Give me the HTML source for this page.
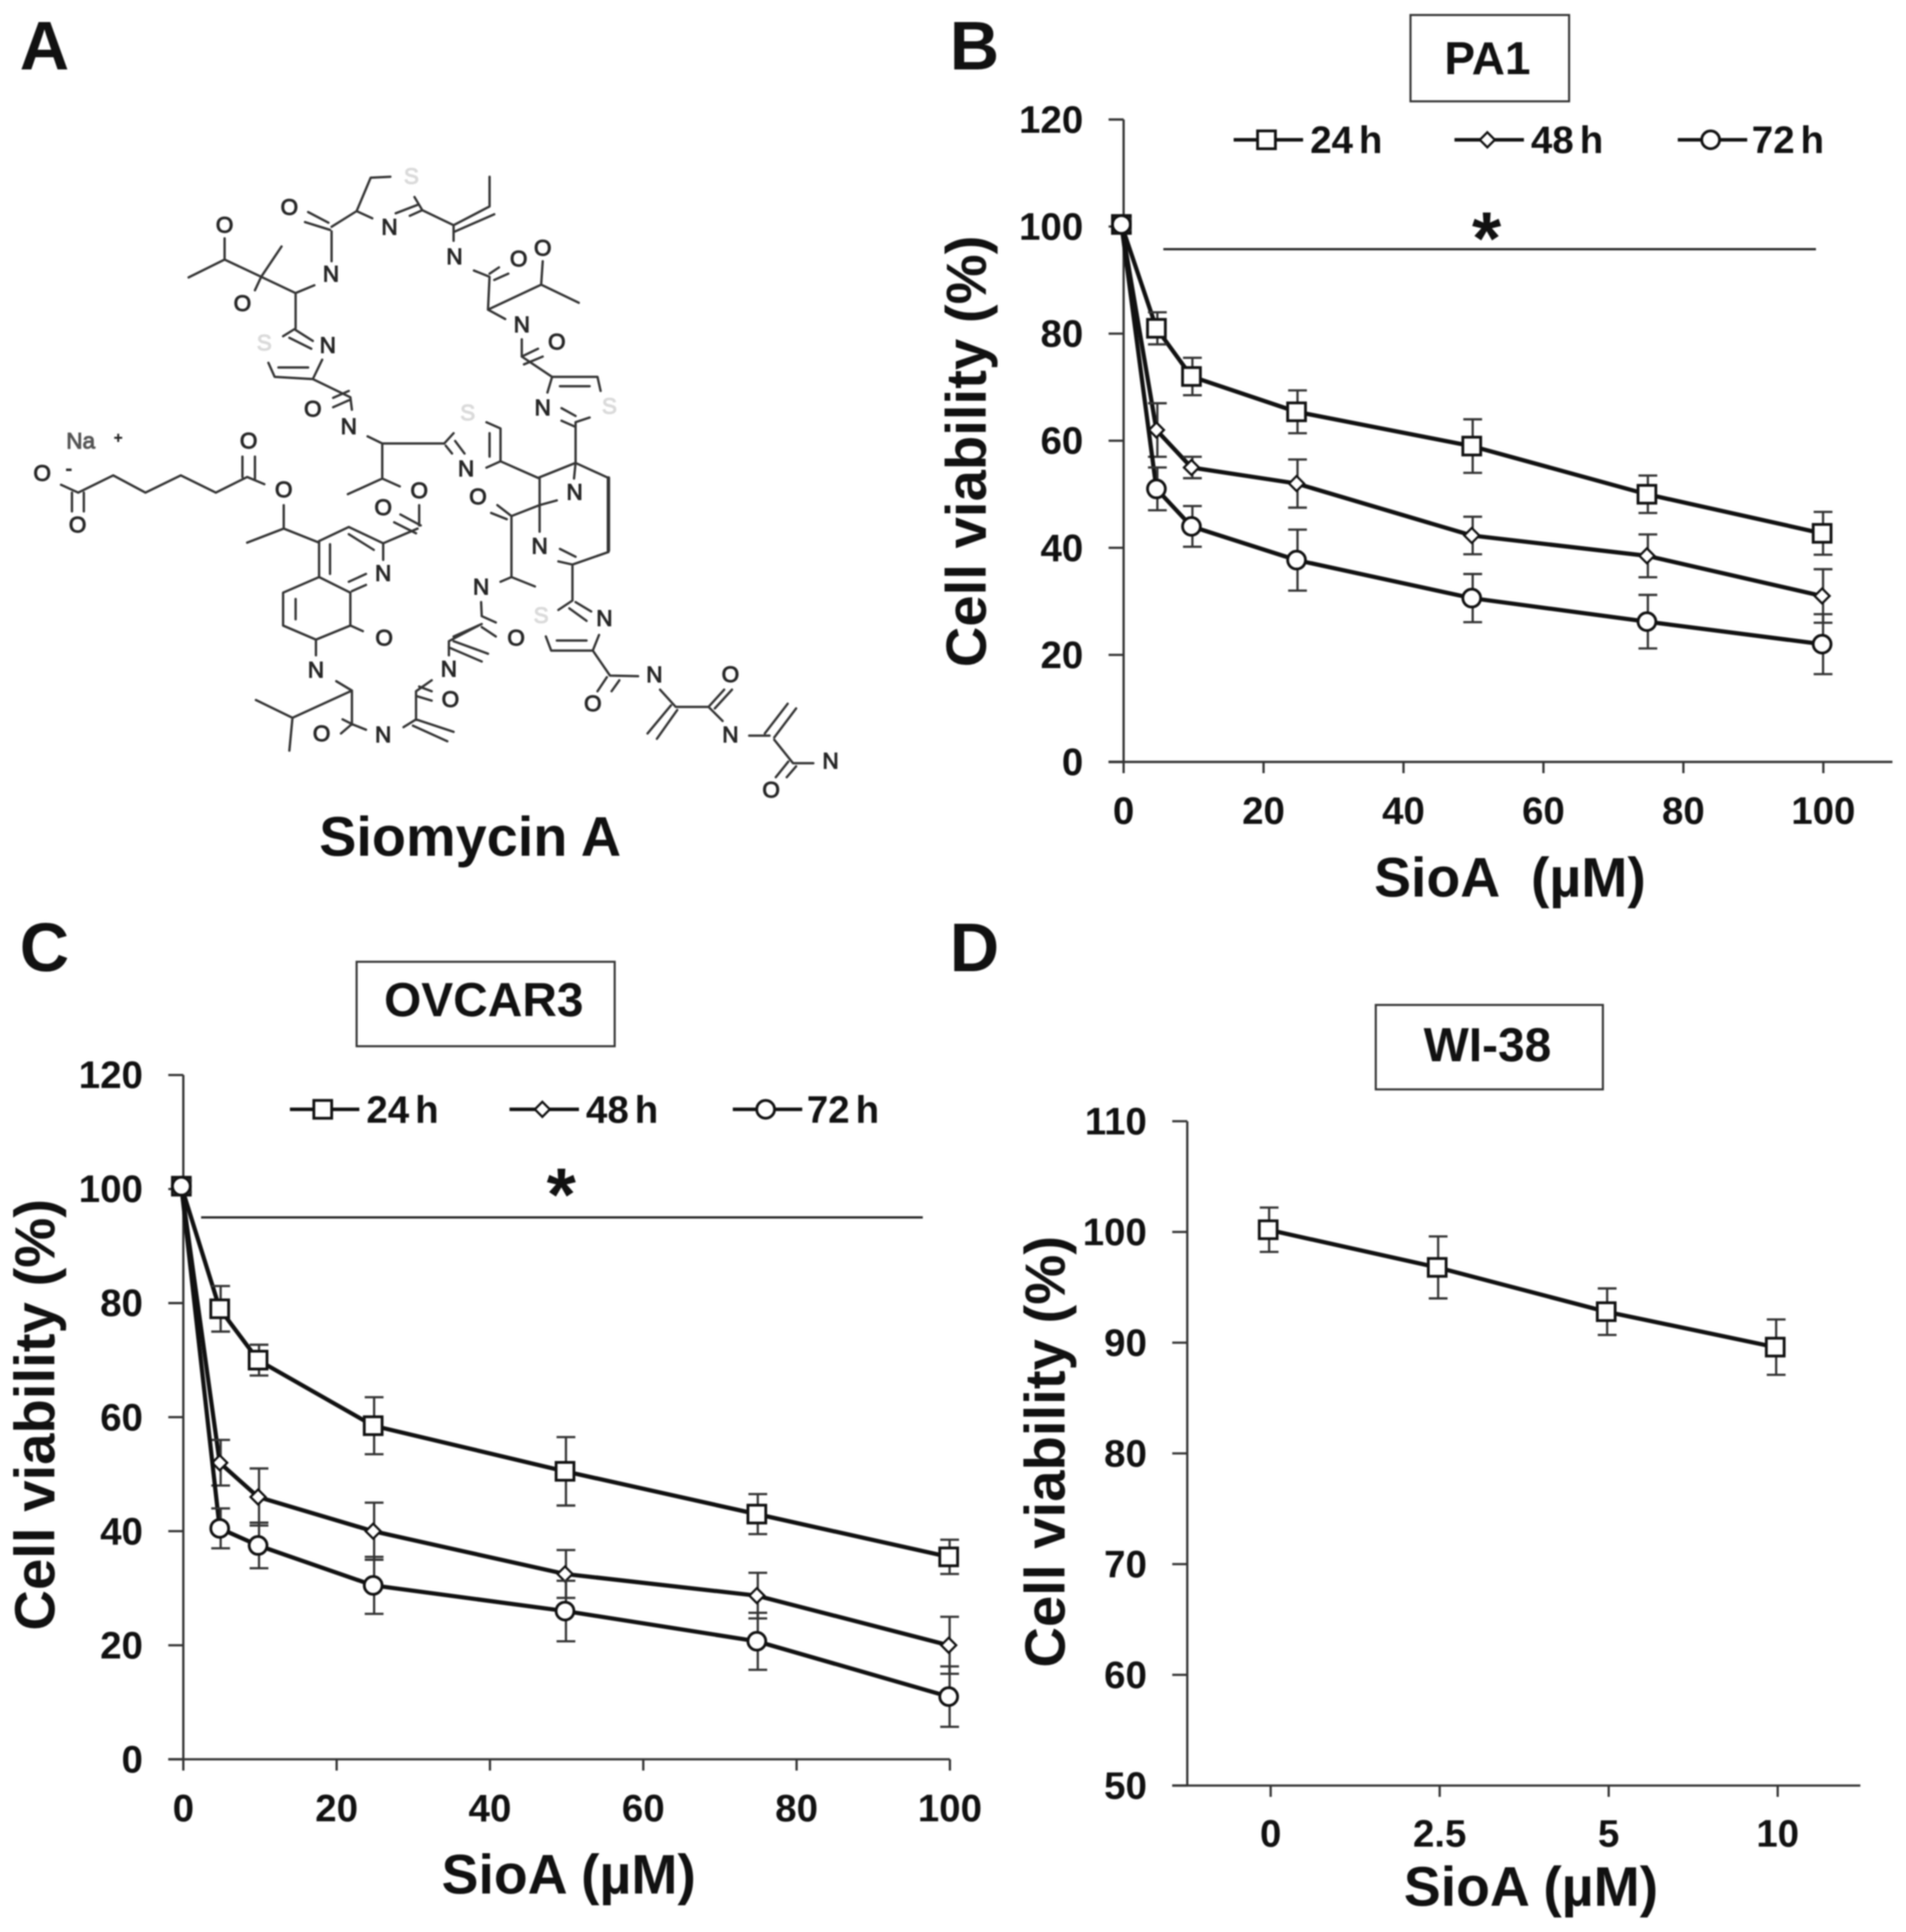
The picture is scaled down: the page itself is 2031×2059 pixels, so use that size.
<!DOCTYPE html>
<html lang="en">
<head>
<meta charset="utf-8">
<title>Siomycin A cell viability figure</title>
<style>
html,body{margin:0;padding:0;background:#fff;width:2031px;height:2059px;overflow:hidden}
#figure{display:block;filter:blur(0.9px);font-family:"Liberation Sans",sans-serif}
.bond{fill:none;stroke:#333;stroke-width:7.5;stroke-linecap:round;stroke-linejoin:round}
.atom{font-size:72px;fill:#262626;stroke:#262626;stroke-width:3;text-anchor:middle;dominant-baseline:central}
.sulfur{fill:#dadada;stroke:#dadada}
.bold{font-weight:bold;fill:#111}
</style>
</head>
<body>
<svg id="figure" xmlns="http://www.w3.org/2000/svg" width="2031" height="2059" viewBox="0 0 2031 2059">
  <rect width="2031" height="2059" fill="#fff"/>

  <text class="bold" x="21" y="74" font-size="73">A</text>
  <text class="bold" x="1012" y="74" font-size="73">B</text>
  <text class="bold" x="21" y="1035" font-size="73">C</text>
  <text class="bold" x="1012" y="1035" font-size="73">D</text>

  <g>
    <g transform="translate(0,150) scale(0.33333)">
      <path class="bond" d="M1248 115L1185 118L1140 225L1190 248M1140 225L1060 275M1050 262L985 228M1055 285L975 260M1060 290L1060 385M1265 232L1335 205M1310 240L1350 222M1350 222L1325 180M1350 222L1450 270M718 312L718 380L603 437M718 380L835 435L900 338M835 435L815 478M835 435L945 487L1005 462M945 487L945 600L905 625M945 605L1000 640M925 630L995 665M858 710L878 755L1000 762L1030 700M890 725L985 725M1000 762L1120 820L1125 860M1065 822L1115 800M1065 852L1115 830M1175 945L1222 968L1420 968M1222 968L1222 1080L1112 1130M1222 1080L1278 1105M195 1100L250 1125L362 1070L465 1125L578 1070L690 1125L790 1075L845 1098M230 1125L230 1185M268 1125L268 1185M775 1010L775 1075M815 1010L815 1085M907 1165L907 1240L790 1285M907 1240L1020 1285"/>
      <text class="atom sulfur" x="1315" y="115">S</text>
      <text class="atom" x="925" y="215">O</text>
      <text class="atom" x="1245" y="278">N</text>
      <text class="atom" x="718" y="272">O</text>
      <text class="atom" x="1058" y="428">N</text>
      <text class="atom" x="775" y="522">O</text>
      <text class="atom sulfur" x="845" y="648">S</text>
      <text class="atom" x="1048" y="655">N</text>
      <text class="atom" x="1000" y="860">O</text>
      <text class="atom" x="1115" y="915">N</text>
      <text class="atom" style="fill:#555;stroke:#555" x="258" y="962">Na</text>
      <text class="atom" style="font-size:46px" x="378" y="952">+</text>
      <text class="atom" x="135" y="1065">O</text>
      <text class="atom" style="font-size:60px" x="220" y="1050">-</text>
      <text class="atom" x="248" y="1230">O</text>
      <text class="atom" x="795" y="962">O</text>
      <text class="atom" x="907" y="1118">O</text>
    </g>
    <g transform="translate(450,150) scale(0.33333)">
      <path class="bond" d="M215 115L215 210L100 270M105 290L230 235M100 270L100 320M165 415L215 435L210 540M215 425L245 405M230 445L275 425M210 540L380 460L385 385M380 460L500 518M210 540L265 570M318 635L318 690L370 665M325 715L385 690M318 690L415 755L560 755L570 800M440 785L535 785M415 755L400 805M445 855L490 880M445 895L490 915M490 900L535 885M490 900L490 1030L370 1078M490 1030L595 1078M490 1030L485 1080M595 1315L480 1355M440 1305L490 1330M435 1345L480 1355M375 1078L375 1250M375 1165L430 1150M375 1165L285 1200L240 1165M270 1210L220 1190M285 1200L285 1395L250 1410M285 1395L360 1425M370 1078L250 1025L250 920L205 900M215 935L215 1010M250 1025L205 1045M70 968L100 935M75 975L95 1000M105 960L135 1000"/>
      <path class="bond" style="stroke-width:11" d="M595 1078L595 1310"/>
      <text class="atom" x="103" y="372">N</text>
      <text class="atom" x="308" y="380">O</text>
      <text class="atom" x="385" y="345">O</text>
      <text class="atom" x="318" y="590">N</text>
      <text class="atom" x="430" y="645">O</text>
      <text class="atom" x="385" y="855">N</text>
      <text class="atom sulfur" x="598" y="850">S</text>
      <text class="atom sulfur" x="145" y="872">S</text>
      <text class="atom" x="140" y="1050">N</text>
      <text class="atom" x="487" y="1125">N</text>
      <text class="atom" x="178" y="1140">O</text>
      <text class="atom" x="375" y="1298">N</text>
    </g>
    <g transform="translate(0,480) scale(0.33333)">
      <path class="bond" d="M1020 290L1115 245L1225 297L1225 350M1020 290L1020 405M1055 300L1055 395M1115 268L1195 318M1020 405L1120 455M1115 420L1170 395M1125 450L1170 430M1120 455L1120 560L1160 578M1120 560L1010 605L905 560L905 455L1020 405M945 475L945 540M1010 605L1010 655M1075 738L1125 768L935 855L818 798M935 855L925 960M1125 768L1125 875L1170 893M1125 875L1095 860M1125 875L1090 905M1290 885L1330 860L1330 770L1380 735M1340 755L1380 770M1330 785L1380 800M1330 860L1450 900M1320 880L1430 930M1435 655L1435 610L1530 560M1225 297L1335 250M1260 230L1330 265M1280 205L1345 240M1340 240L1340 175"/>
      <text class="atom" x="1340" y="130">O</text>
      <text class="atom" x="1225" y="185">O</text>
      <text class="atom" x="1225" y="395">N</text>
      <text class="atom" x="1228" y="602">O</text>
      <text class="atom" x="1010" y="703">N</text>
      <text class="atom" x="1028" y="908">O</text>
      <text class="atom" x="1225" y="910">N</text>
      <text class="atom" x="1435" y="700">N</text>
      <text class="atom" x="1440" y="798">O</text>
    </g>
    <g transform="translate(450,480) scale(0.33333)">
      <path class="bond" d="M480 370L480 480L435 510M490 485L540 515M470 505L525 545M395 595L412 640L545 640L565 590M430 608L525 608M545 640L600 720L690 722M590 725L560 770M630 735L605 770M760 765L810 820L915 820M795 815L720 905M815 830L750 922M915 820L960 865M915 820L965 765M935 825L990 765M1045 912L1110 912M1095 905L1168 810M1125 918L1195 825M1125 925L1185 1000L1250 1000M1170 995L1130 1045M1195 1010L1165 1045M188 485L190 530L235 550M190 565L235 595M190 555L100 595M100 610L210 650M85 630L190 675"/>
      <text class="atom" x="188" y="438">N</text>
      <text class="atom sulfur" x="380" y="530">S</text>
      <text class="atom" x="582" y="538">N</text>
      <text class="atom" x="300" y="602">O</text>
      <text class="atom" x="545" y="812">O</text>
      <text class="atom" x="742" y="718">N</text>
      <text class="atom" x="985" y="718">O</text>
      <text class="atom" x="985" y="910">N</text>
      <text class="atom" x="1305" y="995">N</text>
      <text class="atom" x="1115" y="1087">O</text>
    </g>
  </g>
  <text class="bold" x="501" y="912" text-anchor="middle" font-size="59.5">Siomycin A</text>

  <rect x="1503" y="16" width="169" height="92" fill="#fff" stroke="#333" stroke-width="2.2"/>
  <text class="bold" x="1585" y="79" text-anchor="middle" font-size="49">PA1</text>
  <rect x="380" y="1025" width="275" height="90" fill="#fff" stroke="#333" stroke-width="2.2"/>
  <text class="bold" x="515.5" y="1083" text-anchor="middle" font-size="51">OVCAR3</text>
  <rect x="1466" y="1071" width="242" height="90" fill="#fff" stroke="#333" stroke-width="2.2"/>
  <text class="bold" x="1585" y="1131" text-anchor="middle" font-size="51">WI-38</text>

  <g id="panel-b"></g>
  <g id="panel-c"></g>
  <g id="panel-d"></g>
</svg>

<script>
// ---- chart data ----
const doses = [0, 5, 10, 25, 50, 75, 100];
const doseTicks = [0, 20, 40, 60, 80, 100];
const viabilityTicks = [0, 20, 40, 60, 80, 100, 120];
const seriesLabels = ['24 h', '48 h', '72 h'];

const pa1Mean24h = [100.4, 81, 72, 65.4, 59, 50, 42.7];
const pa1Err24h = [1, 3, 3.5, 4, 5, 3.5, 4];
const pa1Mean48h = [100.4, 62, 55, 52, 42.3, 38.5, 31];
const pa1Err48h = [1, 5, 2, 4.5, 3.5, 4, 5];
const pa1Mean72h = [100.4, 51, 44, 37.7, 30.6, 26.2, 22];
const pa1Err72h = [1, 4, 3.8, 5.7, 4.5, 5, 5.6];

const ovcarMean24h = [100.5, 79, 70, 58.5, 50.5, 43, 35.5];
const ovcarErr24h = [1, 4, 2.7, 5, 6, 3.5, 3];
const ovcarMean48h = [100.5, 52, 46, 40, 32.5, 28.7, 20];
const ovcarErr48h = [1, 4, 5, 5, 4.2, 4, 5];
const ovcarMean72h = [100.5, 40.5, 37.5, 30.5, 26, 20.7, 11];
const ovcarErr72h = [1, 3.5, 4, 5, 5.3, 5, 5.3];

const wi38Doses = ['0', '2.5', '5', '10'];
const wi38Ticks = [50, 60, 70, 80, 90, 100, 110];
const wi38Mean = [100.2, 96.8, 92.8, 89.6];
const wi38Err = [2, 2.8, 2.1, 2.5];

// ---- drawing helpers ----
const SVGNS = 'http://www.w3.org/2000/svg';
const K = 2031 / 1545;

function make(parent, tag, attrs, text) {
  const el = document.createElementNS(SVGNS, tag);
  for (const key in attrs) el.setAttribute(key, attrs[key]);
  if (text !== undefined) el.textContent = text;
  parent.appendChild(el);
  return el;
}

function linear(d0, d1, r0, r1) {
  return function (v) { return r0 + (v - d0) * (r1 - r0) / (d1 - d0); };
}

function drawMarker(parent, kind, cx, cy) {
  let el;
  if (kind === 0) {
    el = make(parent, 'rect', { x: cx - 9.5, y: cy - 9.5, width: 19, height: 19, fill: '#fff', stroke: '#111', 'stroke-width': 3 });
    
    
  } else if (kind === 1) {
    const r = 8;
    el = make(parent, 'path', { d: 'M' + cx + ' ' + (cy - r) + 'L' + (cx + r) + ' ' + cy + 'L' + cx + ' ' + (cy + r) + 'L' + (cx - r) + ' ' + cy + 'Z', fill: '#fff', stroke: '#111', 'stroke-width': 2.4 });
    
    
  } else {
    el = make(parent, 'circle', { cx: cx, cy: cy, r: 9.5, fill: '#fff', stroke: '#111', 'stroke-width': 3 });
    
    
  }
}

function drawAxes(g, xScale, yScale, xValues, xLabels, yValues, f) {
  const axisLeft = f.axisX, axisBottom = yScale(yValues[0]), axisTop = yScale(yValues[yValues.length - 1]);
  const yAxis = make(g, 'line', { x1: axisLeft, y1: axisTop, x2: axisLeft, y2: axisBottom, stroke: '#333', 'stroke-width': 2.4 });
  
  
  const xAxis = make(g, 'line', { x1: axisLeft - 16, y1: axisBottom, x2: f.axisEnd, y2: axisBottom, stroke: '#333', 'stroke-width': 2.4 });
  
  
  yValues.forEach(function (v) {
    const tick = make(g, 'line', { x1: axisLeft - 16, y1: yScale(v), x2: axisLeft, y2: yScale(v), stroke: '#333', 'stroke-width': 2.4 });
    
    
    const label = make(g, 'text', { x: axisLeft - 43, y: yScale(v) + 14, 'text-anchor': 'end', 'font-size': 41, 'font-weight': 'bold', fill: '#111' }, String(v));
    
    
  });
  xValues.forEach(function (v, i) {
    const tick = make(g, 'line', { x1: xScale(v), y1: axisBottom, x2: xScale(v), y2: axisBottom + 12, stroke: '#333', 'stroke-width': 2.4 });
    
    
    const label = make(g, 'text', { x: xScale(v), y: f.xLabelY, 'text-anchor': 'middle', 'font-size': 41, 'font-weight': 'bold', fill: '#111' }, xLabels[i]);
    
    
  });
  const xTitle = make(g, 'text', { x: f.xTitleX, y: f.xTitleY, 'text-anchor': 'middle', 'font-size': 59, 'font-weight': 'bold', fill: '#111' }, f.xTitle);
  
  
  const yTitle = make(g, 'text', { transform: 'translate(' + f.yTitleX + ',' + f.yTitleY + ') rotate(-90)', 'text-anchor': 'middle', 'font-size': 60, 'font-weight': 'bold', fill: '#111' }, 'Cell viability (%)');
  
  
}

function drawSeries(g, xScale, yScale, xValues, mean, err, kind, seriesName) {
  const points = xValues.map(function (v, i) { return xScale(v) + ',' + yScale(mean[i]); }).join(' ');
  const line = make(g, 'polyline', { points: points, fill: 'none', stroke: '#111', 'stroke-width': 4.5 });
  
  
  xValues.forEach(function (v, i) {
    const cx = xScale(v);
    const hi = yScale(mean[i] + err[i]), lo = yScale(mean[i] - err[i]);
    const bar = make(g, 'path', { d: 'M' + (cx + 1) + ' ' + hi + 'V' + lo + 'M' + (cx - 9) + ' ' + hi + 'H' + (cx + 11) + 'M' + (cx - 9) + ' ' + lo + 'H' + (cx + 11), fill: 'none', stroke: '#333', 'stroke-width': 2.4 });
    
    
  });
  xValues.forEach(function (v, i) {
    drawMarker(g, kind, xScale(v), yScale(mean[i]));
  });
}

function drawLegend(g, entries, baseline) {
  entries.forEach(function (e, i) {
    const item = make(g, 'g', {});
    
    
    const key = make(item, 'line', { x1: e.lineX, y1: baseline - 14, x2: e.lineX + 74, y2: baseline - 14, stroke: '#111', 'stroke-width': 3.8 });
    
    
    drawMarker(item, i, e.lineX + 35, baseline - 14);
    const label = make(item, 'text', { x: e.textX, y: baseline, 'font-size': 41, 'font-weight': 'bold', fill: '#111', 'word-spacing': '-5px' }, seriesLabels[i]);
    
    
  });
}

function drawSignificance(g, x1, x2, y, starX, starY) {
  const bar = make(g, 'line', { x1: x1, y1: y, x2: x2, y2: y, stroke: '#222', 'stroke-width': 2.4 });
  
  
  const star = make(g, 'text', { x: starX, y: starY, 'text-anchor': 'middle', 'font-size': 80, 'font-weight': 'bold', fill: '#111' }, '*');
  
  
}

// ---- panel B: PA1 ----
(function () {
  const g = document.getElementById('panel-b');
  const x = linear(0, 100, 909 * K, 1477 * K);
  const tickX = linear(0, 100, 910.8 * K, 1478 * K);
  const y = linear(0, 120, 617.7 * K, 96.9 * K);
  drawAxes(g, tickX, y, doseTicks, doseTicks.map(String), viabilityTicks, {
    axisX: 910.8 * K, axisEnd: 1534 * K, xLabelY: 878,
    xTitle: 'SioA\u00a0\u00a0(µM)', xTitleX: 1224 * K, xTitleY: 727 * K, yTitleX: 799 * K, yTitleY: 366 * K
  });
  drawSignificance(g, 943 * K, 1472 * K, 202 * K, 1205 * K, 202 * K + 16);
  drawSeries(g, x, y, doses, pa1Mean24h, pa1Err24h, 0, '24h');
  drawSeries(g, x, y, doses, pa1Mean48h, pa1Err48h, 1, '48h');
  drawSeries(g, x, y, doses, pa1Mean72h, pa1Err72h, 2, '72h');
  drawLegend(g, [
    { lineX: 1000 * K, textX: 1062 * K },
    { lineX: 1179 * K, textX: 1241 * K },
    { lineX: 1360 * K, textX: 1420 * K }
  ], 124 * K);
})();

// ---- panel C: OVCAR3 ----
(function () {
  const g = document.getElementById('panel-c');
  const x = linear(0, 100, 147 * K, 769 * K);
  const tickX = linear(0, 100, 148.6 * K, 770 * K);
  const y = linear(0, 120, 1426.3 * K, 871.5 * K);
  drawAxes(g, tickX, y, doseTicks, doseTicks.map(String), viabilityTicks, {
    axisX: 148.6 * K, axisEnd: 770 * K, xLabelY: 1941,
    xTitle: 'SioA (µM)', xTitleX: 461 * K, xTitleY: 1535 * K, yTitleX: 44 * K, yTitleY: 1147 * K
  });
  drawSignificance(g, 163 * K, 748 * K, 987 * K, 455 * K, 987 * K + 3);
  drawSeries(g, x, y, doses, ovcarMean24h, ovcarErr24h, 0, '24h');
  drawSeries(g, x, y, doses, ovcarMean48h, ovcarErr48h, 1, '48h');
  drawSeries(g, x, y, doses, ovcarMean72h, ovcarErr72h, 2, '72h');
  drawLegend(g, [
    { lineX: 235 * K, textX: 297 * K },
    { lineX: 413 * K, textX: 475 * K },
    { lineX: 594 * K, textX: 654 * K }
  ], 910 * K);
})();

// ---- panel D: WI-38 ----
(function () {
  const g = document.getElementById('panel-d');
  const slots = wi38Doses.map(function (d, i) { return i; });
  const x = linear(0, 3, 1028 * K, 1439 * K);
  const tickX = linear(0, 3, 1030 * K, 1441 * K);
  const y = linear(50, 110, 1447.6 * K, 909 * K);
  drawAxes(g, tickX, y, slots, wi38Doses, wi38Ticks, {
    axisX: 962.4 * K, axisEnd: 1508 * K, xLabelY: 1968,
    xTitle: 'SioA (µM)', xTitleX: 1241 * K, xTitleY: 1545 * K, yTitleX: 863 * K, yTitleY: 1177 * K
  });
  drawSeries(g, x, y, slots, wi38Mean, wi38Err, 0, 'wi38');
})();
</script>
</body>
</html>
